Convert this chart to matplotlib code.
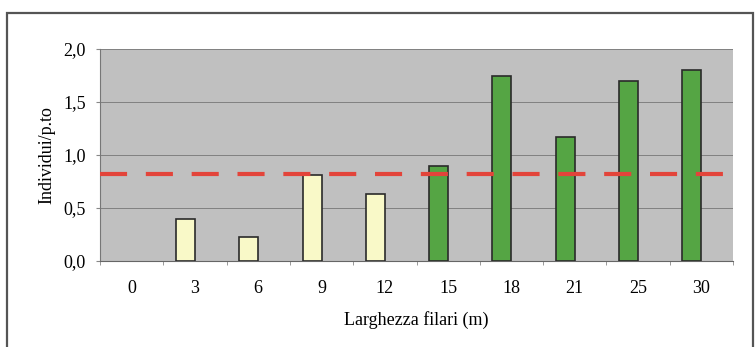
import numpy as np
import matplotlib
matplotlib.use('Agg')
import matplotlib.pyplot as plt
from matplotlib.patches import Rectangle

# Data
categories = ['0', '3', '6', '9', '12', '15', '18', '21', '25', '30']
yellow_values = [0.0, 0.40, 0.226, 0.81, 0.63, 0, 0, 0, 0, 0]
green_values = [0, 0, 0, 0, 0, 0.90, 1.75, 1.17, 1.70, 1.80]
mean_value = 0.824

plt.rcParams['font.family'] = ['Liberation Serif', 'DejaVu Serif']

fig = plt.figure(figsize=(7.56, 3.47), dpi=100)
fig.patch.set_facecolor('white')

# Outer frame (left, top, right edges visible)
fig.add_artist(Rectangle((7 / 756, -0.05), 746 / 756, (347 - 13) / 347 + 0.05,
                         transform=fig.transFigure, fill=False,
                         edgecolor='#555555', linewidth=1.6))

ax = fig.add_axes([100 / 756, (347 - 261) / 347, 633 / 756, 212 / 347])
ax.set_facecolor('#c0c0c0')

x = np.arange(len(categories))
width = 0.3
offset = -0.15

yv = np.array(yellow_values)
gv = np.array(green_values)
ym = yv > 0
gm = gv > 0
ax.bar(x[ym] + offset, yv[ym], width=width, color='#f9f9c8', edgecolor='#2a2a2a', linewidth=1.2, zorder=3)
ax.bar(x[gm] + offset, gv[gm], width=width, color='#55a544', edgecolor='#2a2a2a', linewidth=1.2, zorder=3)

ax.axhline(mean_value, color='#e3443a', linewidth=3, dashes=(6.5, 4.5), zorder=4)

ax.set_xlim(-0.5, len(categories) - 0.5)
ax.set_ylim(0, 2.0)
ax.set_yticks([0, 0.5, 1.0, 1.5, 2.0])
ax.set_yticklabels(['0,0', '0,5', '1,0', '1,5', '2,0'], fontsize=13)
ax.set_xticks(x)
ax.set_xticklabels(categories, fontsize=13)
ax.set_xticks(np.arange(-0.5, len(categories), 1), minor=True)
ax.tick_params(axis='x', which='major', length=0, pad=14)
ax.tick_params(axis='x', which='minor', length=3, color='#888888', direction='out')
ax.tick_params(axis='y', length=3, color='#888888', pad=7)

ax.grid(axis='y', color='#777777', linewidth=0.6, zorder=1)
for s in ['top', 'right']:
    ax.spines[s].set_visible(False)
ax.spines['left'].set_color('#777777')
ax.spines['bottom'].set_color('#666666')

ax.set_ylabel('Individui/p.to', fontsize=13, labelpad=6)
ax.set_xlabel('Larghezza filari (m)', fontsize=13, labelpad=10)

fig.savefig('out.png', dpi=100)
